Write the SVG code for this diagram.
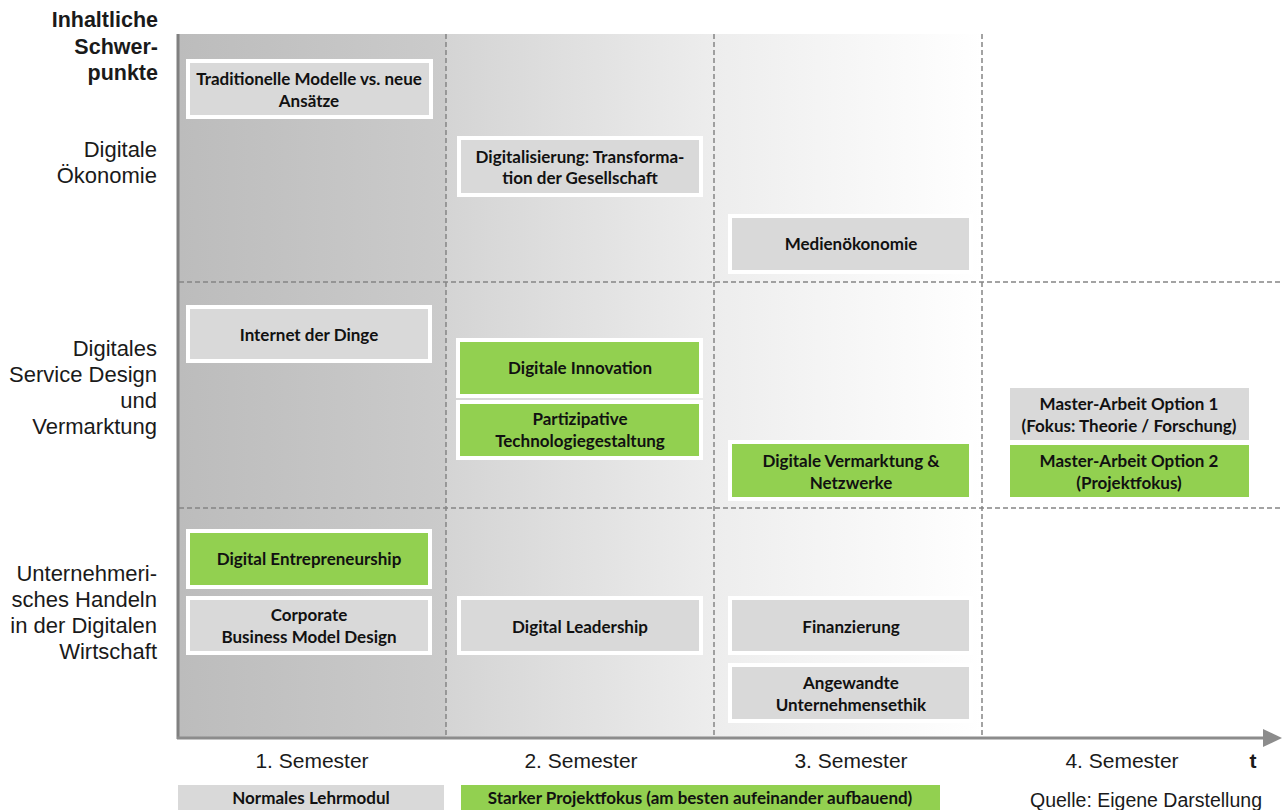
<svg xmlns="http://www.w3.org/2000/svg" width="1283" height="810" viewBox="0 0 1283 810">
<defs>
<linearGradient id="g1" x1="0" y1="0" x2="1" y2="0"><stop offset="0" stop-color="#bcbcbc"/><stop offset="1" stop-color="#cbcbcb"/></linearGradient>
<linearGradient id="g2" x1="0" y1="0" x2="1" y2="0"><stop offset="0" stop-color="#d4d4d4"/><stop offset="0.5" stop-color="#ededed"/><stop offset="1" stop-color="#ffffff"/></linearGradient>
<style>
.lbl{font-family:"Liberation Sans",Arial,sans-serif;font-size:22px;fill:#1a1a1a;text-anchor:end}
.hd{font-weight:bold}
.h1{font-size:21.5px}
.sem{font-family:"Liberation Sans",Arial,sans-serif;font-size:21px;fill:#1a1a1a;text-anchor:middle}
.bt{font-family:Lato,"Open Sans",sans-serif;font-weight:bold;font-size:17px;fill:#111;text-anchor:middle}
.gray{fill:#d9d9d9;stroke:#fff;stroke-width:4}
.green{fill:#92d050;stroke:#fff;stroke-width:4}
.dash{stroke:#858585;stroke-width:1.5;stroke-dasharray:5,3;fill:none}
</style>
</defs>
<rect x="178" y="34" width="268" height="704" fill="url(#g1)"/>
<rect x="446" y="34" width="536" height="704" fill="url(#g2)"/>
<g id="connectors">
<line class="dash" x1="446" y1="34" x2="446" y2="737"/>
<line class="dash" x1="714" y1="34" x2="714" y2="737"/>
<line class="dash" x1="982" y1="34" x2="982" y2="737"/>
<line class="dash" x1="179" y1="282" x2="1283" y2="282"/>
<line class="dash" x1="179" y1="508" x2="1283" y2="508"/>
<line x1="178" y1="34" x2="178" y2="739" stroke="#808080" stroke-width="3"/>
<line x1="177" y1="738" x2="1265" y2="738" stroke="#8c8c8c" stroke-width="3"/>
<polygon points="1263,729 1282,738 1263,747" fill="#8c8c8c"/>
</g>
<g id="labels">
<text class="lbl hd h1" x="158" y="27">Inhaltliche</text>
<text class="lbl hd h1" x="158" y="54">Schwer-</text>
<text class="lbl hd h1" x="158" y="80">punkte</text>
<text class="lbl" x="157" y="157">Digitale</text>
<text class="lbl" x="157" y="183">Ökonomie</text>
<text class="lbl" x="157" y="356">Digitales</text>
<text class="lbl" x="157" y="382">Service Design</text>
<text class="lbl" x="157" y="408">und</text>
<text class="lbl" x="157" y="434">Vermarktung</text>
<text class="lbl" x="157" y="581">Unternehmeri-</text>
<text class="lbl" x="157" y="607">sches Handeln</text>
<text class="lbl" x="157" y="633">in der Digitalen</text>
<text class="lbl" x="157" y="659">Wirtschaft</text>
<text class="sem" x="312" y="768">1. Semester</text>
<text class="sem" x="581" y="768">2. Semester</text>
<text class="sem" x="851" y="768">3. Semester</text>
<text class="sem" x="1122" y="768">4. Semester</text>
<text class="sem hd" x="1253" y="768">t</text>
<text class="sem" x="1262" y="807" style="text-anchor:end;font-size:19.5px">Quelle: Eigene Darstellung</text>
</g>
<g id="n1"><rect class="gray" x="188" y="61" width="243" height="56"/><text class="bt" x="309" y="85">Traditionelle Modelle vs. neue</text><text class="bt" x="309" y="107">Ansätze</text></g>
<g id="n2"><rect class="gray" x="459" y="138" width="242" height="57"/><text class="bt" x="580" y="163">Digitalisierung: Transforma-</text><text class="bt" x="580" y="184">tion der Gesellschaft</text></g>
<g id="n3"><rect class="gray" x="730" y="216" width="241" height="56"/><text class="bt" x="851" y="250">Medienökonomie</text></g>
<g id="n4"><rect class="gray" x="188" y="307" width="242" height="54"/><text class="bt" x="309" y="341">Internet der Dinge</text></g>
<g id="n5"><rect class="green" x="458" y="340" width="243" height="56"/><text class="bt" x="580" y="374">Digitale Innovation</text></g>
<g id="n6"><rect class="green" x="458" y="402" width="243" height="56"/><text class="bt" x="580" y="425">Partizipative</text><text class="bt" x="580" y="447">Technologiegestaltung</text></g>
<g id="n7"><rect class="green" x="730" y="442" width="241" height="57"/><text class="bt" x="851" y="467">Digitale Vermarktung &amp;</text><text class="bt" x="851" y="489">Netzwerke</text></g>
<g id="n8"><rect x="1010" y="388" width="239" height="52" fill="#d9d9d9"/><text class="bt" x="1129" y="410">Master-Arbeit Option 1</text><text class="bt" x="1129" y="432">(Fokus: Theorie / Forschung)</text></g>
<g id="n9"><rect x="1010" y="445" width="239" height="52" fill="#92d050"/><text class="bt" x="1129" y="467">Master-Arbeit Option 2</text><text class="bt" x="1129" y="489">(Projektfokus)</text></g>
<g id="n10"><rect class="green" x="188" y="531" width="242" height="56"/><text class="bt" x="309" y="565">Digital Entrepreneurship</text></g>
<g id="n11"><rect class="gray" x="188" y="598" width="242" height="55"/><text class="bt" x="309" y="621">Corporate</text><text class="bt" x="309" y="643">Business Model Design</text></g>
<g id="n12"><rect class="gray" x="459" y="598" width="242" height="55"/><text class="bt" x="580" y="633">Digital Leadership</text></g>
<g id="n13"><rect class="gray" x="730" y="598" width="241" height="55"/><text class="bt" x="851" y="633">Finanzierung</text></g>
<g id="n14"><rect class="gray" x="730" y="665" width="241" height="56"/><text class="bt" x="851" y="689">Angewandte</text><text class="bt" x="851" y="711">Unternehmensethik</text></g>
<g id="legend1"><rect x="178" y="785" width="266" height="25" fill="#d9d9d9"/><text class="bt" x="311" y="804">Normales Lehrmodul</text></g>
<g id="legend2"><rect x="461" y="785" width="479" height="25" fill="#92d050"/><text class="bt" x="700" y="804">Starker Projektfokus (am besten aufeinander aufbauend)</text></g>
</svg>
